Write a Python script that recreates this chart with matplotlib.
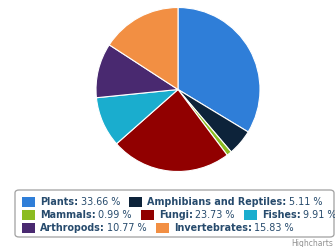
import matplotlib
matplotlib.use("Agg")
import matplotlib.pyplot as plt
from matplotlib.patches import FancyBboxPatch, Rectangle

names = ["Plants", "Amphibians and Reptiles", "Mammals", "Fungi", "Fishes",
         "Arthropods", "Invertebrates"]
shares = [33.66, 5.11, 0.99, 23.73, 9.91, 10.77, 15.83]
colors = ["#2f7ed8", "#0d233a", "#8bbc21", "#910000", "#1aadce",
          "#492970", "#f28f43"]
rows = [[0, 1], [2, 3, 4], [5, 6]]

W, H = 335, 247
fig = plt.figure(figsize=(W / 100, H / 100), dpi=100)

# pie
cx, cy, r = 178, 89.5, 82
ax = fig.add_axes([(cx - r) / W, (H - cy - r) / H, 2 * r / W, 2 * r / H])
ax.pie(shares, colors=colors, startangle=90, counterclock=False,
       wedgeprops=dict(edgecolor="white", linewidth=0.8))
ax.set_xlim(-1, 1)
ax.set_ylim(-1, 1)
ax.set_aspect("auto")
ax.axis("off")

# legend box
box = FancyBboxPatch((15 / W, (H - 237) / H), (W - 16) / W, 47 / H,
                     boxstyle="round,pad=0,rounding_size=0.012",
                     transform=fig.transFigure, facecolor="white",
                     edgecolor="#a0a0a0", linewidth=0.9)
fig.patches.append(box)

fig.canvas.draw()
renderer = fig.canvas.get_renderer()
txtcol = "#274b6d"
fs = 6.9
row_y = [201.5, 214.5, 227.5]
for ri, row in enumerate(rows):
    x = 22
    y = row_y[ri]
    for i in row:
        fig.patches.append(Rectangle((x / W, (H - y - 5) / H), 13 / W, 10 / H,
                                     transform=fig.transFigure,
                                     facecolor=colors[i], edgecolor="none"))
        x += 18
        t1 = fig.text(x / W, (H - y) / H, names[i] + ":", fontsize=fs,
                      fontweight="bold", color=txtcol, va="center", ha="left")
        x += t1.get_window_extent(renderer).width + 2.5
        t2 = fig.text(x / W, (H - y) / H, "%.2f %%" % shares[i], fontsize=fs,
                      color=txtcol, va="center", ha="left")
        x += t2.get_window_extent(renderer).width + 9

fig.text(333 / W, (H - 243) / H, "Highcharts", fontsize=5.5, color="#909090",
         ha="right", va="center")

fig.savefig("out.png", dpi=100)
